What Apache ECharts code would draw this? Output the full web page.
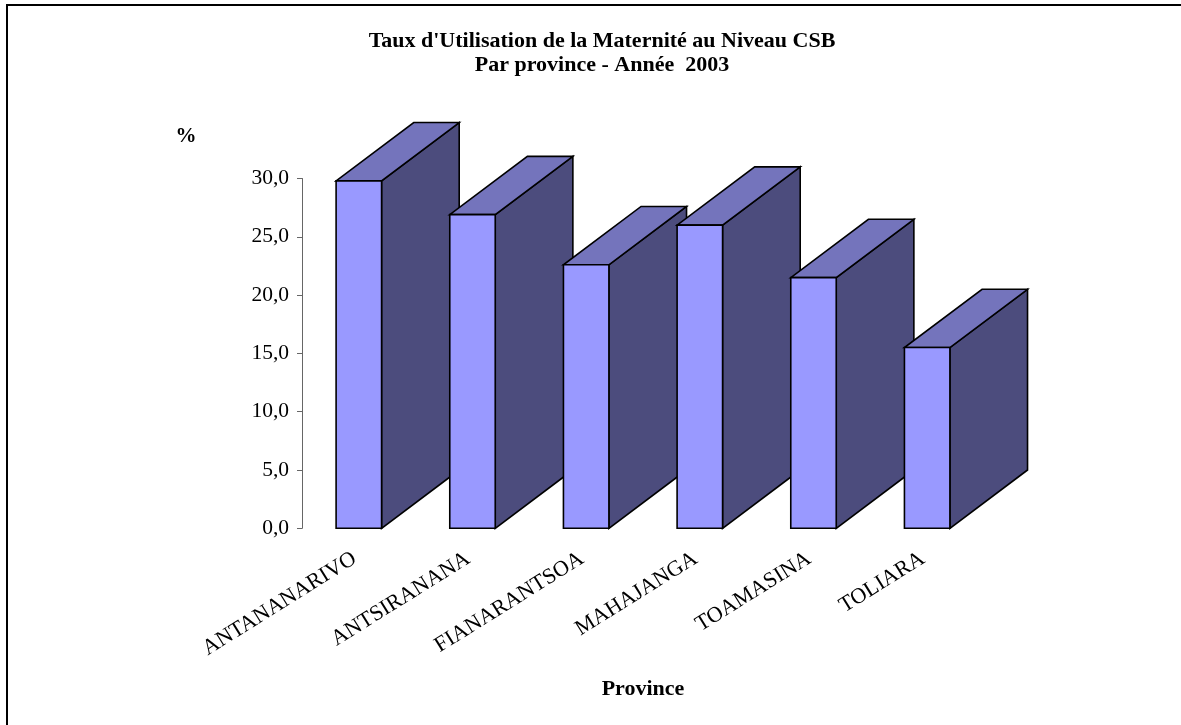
<!DOCTYPE html>
<html>
<head>
<meta charset="utf-8">
<script src="https://cdn.jsdelivr.net/npm/echarts@6/dist/echarts.min.js"></script>
<style>
html,body{margin:0;padding:0;background:#fff;}
#chart{width:1181px;height:725px;}
</style>
</head>
<body>
<div id="chart"></div>
<script>
const categories = ['ANTANANARIVO', 'ANTSIRANANA', 'FIANARANTSOA', 'MAHAJANGA', 'TOAMASINA', 'TOLIARA'];
const values = [29.8, 26.9, 22.6, 26.0, 21.5, 15.5];
const yMin = 0, yMax = 30, yStep = 5;
const titleLines = ["Taux d'Utilisation de la Maternité au Niveau CSB", "Par province - Année  2003"];
const yName = '%';
const xName = 'Province';

const FONT = "'Liberation Serif', 'Times New Roman', serif";
const chart = echarts.init(document.getElementById('chart'), null, {renderer: 'canvas'});

function renderItem(params, api) {
  const idx = api.value(0), v = api.value(1);
  const top = api.coord([idx, v]);
  const base = api.coord([idx, 0]);
  const band = api.size([1, 0])[0];
  const w = band * 0.4;
  const dx = band * 0.683;
  const dy = api.size([0, 5])[1];
  const x0 = top[0] - w / 2, x1 = top[0] + w / 2, yT = top[1], yB = base[1];
  const stroke = {stroke: '#000', lineWidth: 1.6, lineJoin: 'miter'};
  return {
    type: 'group',
    children: [
      {type: 'polygon', shape: {points: [[x1, yB], [x1, yT], [x1 + dx, yT - dy], [x1 + dx, yB - dy]]},
       style: Object.assign({fill: '#4C4C7D'}, stroke)},
      {type: 'polygon', shape: {points: [[x0, yT], [x1, yT], [x1 + dx, yT - dy], [x0 + dx, yT - dy]]},
       style: Object.assign({fill: '#7474BC'}, stroke)},
      {type: 'rect', shape: {x: x0, y: yT, width: w, height: yB - yT},
       style: Object.assign({fill: '#9999FF'}, stroke)}
    ]
  };
}

chart.setOption({
  animation: false,
  backgroundColor: '#fff',
  grid: {left: 302, right: 197, top: 178.5, bottom: 196.7, containLabel: false},
  graphic: [
    {type: 'rect', shape: {x: 7, y: 5, width: 1400, height: 1000}, style: {fill: 'none', stroke: '#000', lineWidth: 2}, silent: true},
    {type: 'text', x: 602, y: 29, style: {text: titleLines.join('\n'), textAlign: 'center', font: 'bold 22px ' + FONT, lineHeight: 24, fill: '#000'}},
    {type: 'text', x: 186, y: 126, style: {text: yName, textAlign: 'center', font: 'bold 21px ' + FONT, fill: '#000'}}
  ],
  xAxis: {
    type: 'category',
    data: categories,
    axisLine: {show: false},
    axisTick: {show: false},
    axisLabel: {rotate: 32, margin: 26, padding: [0, 5, 0, 0], fontFamily: FONT, fontSize: 22, color: '#000', interval: 0},
    name: xName,
    nameLocation: 'middle',
    nameGap: 150,
    nameTextStyle: {fontFamily: FONT, fontSize: 22, fontWeight: 'bold', color: '#000'}
  },
  yAxis: {
    type: 'value',
    min: yMin, max: yMax, interval: yStep,
    axisLine: {show: true, lineStyle: {color: '#666', width: 1}},
    axisTick: {show: true, inside: false, length: 5, lineStyle: {color: '#666'}},
    splitLine: {show: false},
    axisLabel: {margin: 13, fontFamily: FONT, fontSize: 21.5, color: '#000',
      formatter: v => v.toFixed(1).replace('.', ',')}
  },
  series: [{
    type: 'custom',
    renderItem: renderItem,
    clip: false,
    encode: {x: 0, y: 1},
    data: values.map((v, i) => [i, v])
  }]
});
</script>
</body>
</html>
